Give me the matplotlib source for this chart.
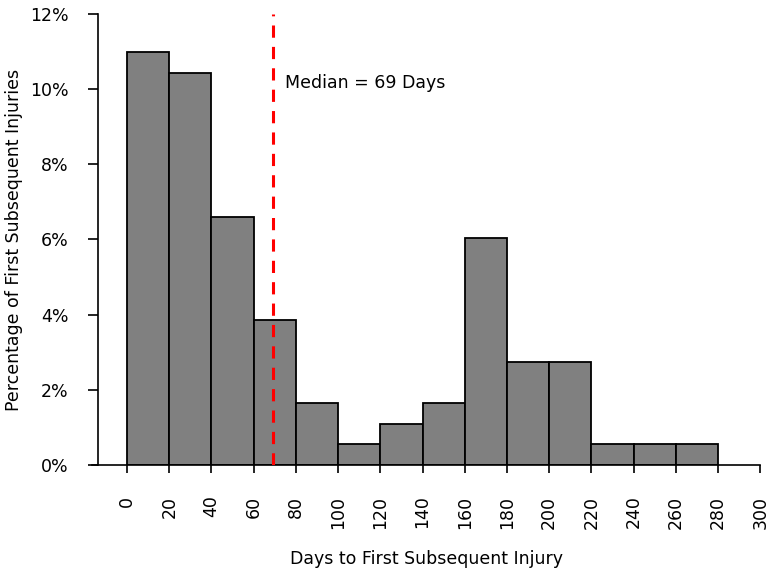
import matplotlib.pyplot as plt
from matplotlib.ticker import FuncFormatter

# bin edges (days) and percentage per 20-day bin
bin_left = [0, 20, 40, 60, 80, 100, 120, 140, 160, 180, 200, 220, 240, 260]
percent = [10.99, 10.44, 6.59, 3.85, 1.65, 0.55, 1.10, 1.65, 6.04, 2.75, 2.75, 0.55, 0.55, 0.55]
median_days = 69
x_ticks = list(range(0, 301, 20))
y_ticks = [0, 2, 4, 6, 8, 10, 12]

fig = plt.figure(figsize=(7.75, 5.77), dpi=100)
ax = fig.add_axes([0.119, 0.194, 0.862, 0.782])

ax.bar(bin_left, percent, width=20, align='edge', color='#808080',
       edgecolor='black', linewidth=1.3, zorder=2)
ax.axvline(median_days, color='red', linestyle=(0, (4, 3)), linewidth=2.2, zorder=3)
ax.text(median_days + 6, 10.15, f'Median = {median_days} Days', fontsize=12.5, va='center')

ax.set_xlim(-16.5, 300)
ax.set_ylim(0, 12)
ax.set_xticks(x_ticks)
ax.set_xticklabels([str(t) for t in x_ticks], rotation=90)
ax.set_yticks(y_ticks)
ax.yaxis.set_major_formatter(FuncFormatter(lambda v, p: f'{v:.0f}%'))

ax.spines['top'].set_visible(False)
ax.spines['right'].set_visible(False)
ax.spines['left'].set_position(('data', -14))
ax.spines['bottom'].set_bounds(-16.5, 300)
for s in ['left', 'bottom']:
    ax.spines[s].set_linewidth(1.2)

ax.tick_params(axis='x', length=6, width=1.2, pad=16, labelsize=12.5)
ax.tick_params(axis='y', length=7, width=1.2, pad=14, labelsize=12.5)

ax.set_xlabel('Days to First Subsequent Injury', fontsize=12.5, labelpad=15)
ax.set_ylabel('Percentage of First Subsequent Injuries', fontsize=12.5, labelpad=5)

fig.savefig('out.png', dpi=100)
